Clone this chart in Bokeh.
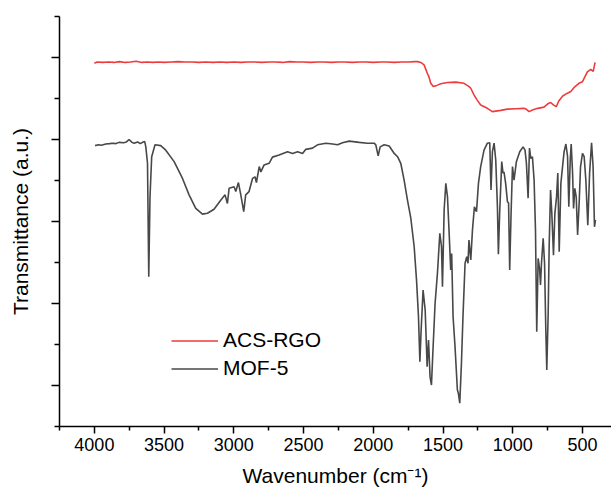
from bokeh.plotting import figure
from bokeh.models import Range1d, FixedTicker, Legend, LegendItem
from bokeh.embed import file_html
from bokeh.resources import INLINE

# ---- data ----
rgo_wn = [4000, 3980, 3940, 3900, 3860, 3820, 3780, 3740, 3700, 3660, 3620, 3580, 3540, 3500,
          3450, 3400, 3350, 3300, 3250, 3200, 3150, 3100, 3050, 3000, 2950, 2900, 2850, 2800,
          2750, 2700, 2650, 2600, 2550, 2500, 2450, 2400, 2350, 2300, 2250, 2200, 2150, 2100,
          2050, 2000, 1950, 1900, 1850, 1800, 1750, 1700, 1683, 1660, 1636, 1612, 1600, 1588,
          1570, 1545, 1516, 1468, 1409, 1349, 1313, 1301, 1278, 1255, 1230, 1182, 1146, 1086,
          1038, 979, 919, 900, 883, 859, 821, 776, 749, 728, 706, 688, 670, 642, 608, 584,
          560, 525, 500, 484, 465, 441, 423, 410]
rgo_t = [88.6, 88.9, 88.8, 88.9, 88.8, 89.0, 88.8, 88.9, 89.1, 88.8, 88.9, 88.8, 88.9, 88.8,
         88.9, 89.0, 88.9, 88.9, 88.8, 88.9, 88.8, 88.9, 88.8, 88.9, 88.8, 88.9, 88.9, 88.8,
         88.9, 88.9, 88.8, 89.0, 88.9, 88.9, 88.8, 88.9, 88.9, 88.8, 88.9, 88.9, 88.8, 88.9,
         88.9, 88.8, 88.9, 88.9, 88.8, 88.9, 88.9, 89.0, 89.0, 88.8, 88.2, 86.1, 85.2, 83.7,
         82.9, 83.2, 83.6, 83.9, 84.0, 83.7, 82.9, 82.5, 80.9, 79.6, 78.4, 77.6, 76.8, 77.1,
         77.4, 77.5, 77.6, 77.3, 76.8, 77.2, 77.6, 77.9, 78.7, 79.0, 78.4, 78.0, 79.4, 80.6,
         81.3, 81.7, 82.7, 83.7, 84.1, 85.2, 86.5, 87.1, 86.6, 88.8]

mof_wn = [3995, 3970, 3950, 3918, 3890, 3870, 3845, 3823, 3790, 3770, 3751, 3730, 3715, 3690,
          3670, 3655, 3639, 3631, 3619, 3610, 3601, 3589, 3565, 3524, 3488, 3428, 3368, 3321,
          3273, 3225, 3189, 3142, 3094, 3063, 3046, 3034, 2998, 2986, 2967, 2950, 2929, 2915,
          2891, 2866, 2848, 2838, 2818, 2806, 2783, 2747, 2723, 2675, 2615, 2579, 2543, 2507,
          2484, 2436, 2400, 2340, 2292, 2256, 2221, 2173, 2101, 2042, 1994, 1982, 1965, 1951,
          1922, 1886, 1850, 1826, 1803, 1779, 1755, 1731, 1707, 1690, 1676, 1666, 1657, 1643,
          1628, 1614, 1604, 1593, 1583, 1571, 1557, 1540, 1523, 1511, 1504, 1492, 1480, 1468,
          1457, 1445, 1438, 1428, 1414, 1397, 1390, 1380, 1368, 1357, 1342, 1330, 1321, 1314,
          1301, 1289, 1275, 1260, 1246, 1230, 1206, 1182, 1165, 1156, 1146, 1134, 1122, 1110,
          1103, 1094, 1079, 1070, 1063, 1051, 1038, 1030, 1022, 1012, 1002, 991, 974, 950,
          926, 912, 902, 890, 880, 871, 859, 847, 837, 828, 818, 808, 801, 794, 782, 772,
          763, 756, 746, 739, 729, 720, 708, 698, 686, 677, 667, 655, 643, 632, 619, 607,
          598, 588, 581, 571, 564, 555, 545, 535, 524, 514, 500, 488, 476, 462, 449, 435,
          424, 414, 407]
mof_t = [68.5, 68.7, 68.6, 68.9, 69.0, 69.1, 69.0, 69.3, 69.2, 69.4, 70.0, 69.3, 69.1, 69.4,
         69.0, 69.3, 69.5, 68.2, 64.2, 36.5, 56.0, 65.8, 68.7, 68.5, 67.4, 64.6, 60.5, 56.5,
         53.2, 51.8, 52.0, 53.0, 55.2, 56.5, 54.4, 58.1, 58.5, 57.3, 59.5, 56.5, 52.4, 56.5,
         57.3, 60.5, 60.9, 59.5, 63.4, 62.1, 63.8, 64.2, 65.7, 66.2, 67.0, 66.6, 67.0, 66.6,
         67.6, 67.9, 68.7, 69.1, 68.9, 68.7, 69.2, 69.6, 69.3, 69.1, 69.1, 68.7, 66.0, 68.2,
         68.7, 68.4, 66.6, 65.8, 64.2, 60.1, 55.2, 50.8, 43.9, 35.7, 26.8, 15.8, 23.5, 33.3,
         28.4, 14.6, 21.1, 12.1, 10.1, 19.5, 30.0, 37.4, 47.1, 43.9, 34.1, 52.8, 59.3, 56.0,
         47.9, 38.2, 42.2, 26.8, 19.5, 8.9, 8.1, 5.7, 15.4, 26.8, 39.8, 41.4, 39.8, 45.5,
         40.6, 47.9, 53.6, 52.4, 59.3, 63.4, 67.4, 69.1, 69.2, 57.7, 67.0, 69.1, 65.0, 53.6,
         42.0, 52.0, 64.6, 61.8, 62.1, 59.3, 54.8, 54.5, 38.2, 52.0, 63.4, 60.1, 64.6, 67.0,
         68.2, 67.4, 64.2, 55.7, 67.9, 65.4, 65.8, 60.1, 47.9, 23.1, 41.0, 38.6, 34.5, 39.8, 45.9, 39.8,
         23.5, 13.8, 27.6, 43.9, 57.7, 52.0, 41.8, 52.0, 56.0, 61.8, 42.6, 59.3, 63.4, 67.0, 68.9, 65.8,
         53.6, 65.0, 68.9, 61.8, 53.2, 58.1, 56.0, 46.7, 54.4, 63.4, 66.6, 65.8, 60.1, 49.1, 61.8, 69.2,
         63.4, 48.7, 50.4]

x_major = [4000, 3500, 3000, 2500, 2000, 1500, 1000, 500]
x_minor = [4250, 3750, 3250, 2750, 2250, 1750, 1250, 750, 250]
y_major = [10, 30, 50, 70, 90]
y_minor = [0, 20, 40, 60, 80, 100]

FONT = "Liberation Sans"

p = figure(width=611, height=491, output_backend="svg", toolbar_location=None,
           x_range=Range1d(4250, 292), y_range=Range1d(0, 100),
           min_border_left=59, min_border_right=0, min_border_top=16, min_border_bottom=65)
p.outline_line_color = None
p.grid.visible = False
p.background_fill_color = "white"
p.border_fill_color = "white"

r_red = p.line(rgo_wn, rgo_t, line_color="#ef3b3b", line_width=1.6)
r_blk = p.line(mof_wn, mof_t, line_color="#484848", line_width=1.6)

# x axis
xa = p.xaxis[0]
xa.ticker = FixedTicker(ticks=x_major, minor_ticks=x_minor)
xa.axis_label = "Wavenumber (cm\u207b\u00b9)"
xa.axis_label_text_font = FONT
xa.axis_label_text_font_size = "21px"
xa.axis_label_text_font_style = "normal"
xa.axis_label_text_color = "black"
xa.axis_label_standoff = 10
xa.major_label_text_font = FONT
xa.major_label_text_font_size = "18px"
xa.major_label_text_color = "black"
xa.major_label_standoff = 4
xa.axis_line_width = 1.5
xa.axis_line_color = "black"
xa.major_tick_line_color = "black"
xa.minor_tick_line_color = "black"
xa.major_tick_line_width = 1.5
xa.minor_tick_line_width = 1.5
xa.major_tick_in = 0
xa.major_tick_out = 7
xa.minor_tick_in = 0
xa.minor_tick_out = 4

# y axis
ya = p.yaxis[0]
ya.ticker = FixedTicker(ticks=y_major, minor_ticks=y_minor)
ya.major_label_overrides = {t: "" for t in y_major}
ya.major_label_text_font_size = "1px"
ya.axis_label = "Transmittance (a.u.)"
ya.axis_label_text_font = FONT
ya.axis_label_text_font_size = "21px"
ya.axis_label_text_font_style = "normal"
ya.axis_label_text_color = "black"
ya.axis_label_standoff = 20
ya.axis_line_width = 1.5
ya.axis_line_color = "black"
ya.major_tick_line_color = "black"
ya.minor_tick_line_color = "black"
ya.major_tick_line_width = 1.5
ya.minor_tick_line_width = 1.5
ya.major_tick_in = 0
ya.major_tick_out = 8
ya.minor_tick_in = 0
ya.minor_tick_out = 5

legend = Legend(items=[LegendItem(label="ACS-RGO", renderers=[r_red]),
                       LegendItem(label="MOF-5", renderers=[r_blk])],
                location=(112, 46))
legend.label_text_font = FONT
legend.label_text_font_size = "21px"
legend.label_text_color = "black"
legend.glyph_width = 47
legend.glyph_height = 23
legend.label_height = 23
legend.label_standoff = 5
legend.spacing = 4
legend.padding = 0
legend.margin = 0
legend.border_line_color = None
legend.background_fill_alpha = 0
p.add_layout(legend)

open("out.html", "w").write(file_html(p, INLINE))
